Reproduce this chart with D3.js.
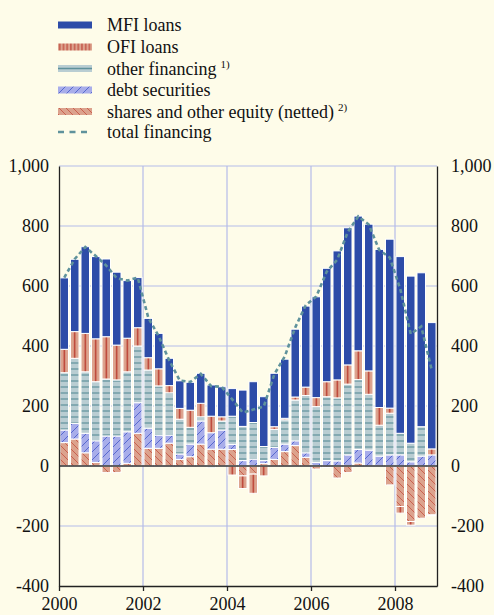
<!DOCTYPE html>
<html>
<head>
<meta charset="utf-8">
<script src="https://cdn.jsdelivr.net/npm/d3@7"></script>
<style>
   body { margin: 0; background: #fefce9; }
   svg { display: block; font-family: "Liberation Serif", "Times New Roman", serif; }
</style>
</head>
<body>
<div id="chart"></div>
<script>

// QUARTERS -- 2000 Q1 TO 2008 Q4
var quarters = [
   "2000Q1", "2000Q2", "2000Q3", "2000Q4", "2001Q1", "2001Q2", "2001Q3", "2001Q4",
   "2002Q1", "2002Q2", "2002Q3", "2002Q4", "2003Q1", "2003Q2", "2003Q3", "2003Q4",
   "2004Q1", "2004Q2", "2004Q3", "2004Q4", "2005Q1", "2005Q2", "2005Q3", "2005Q4",
   "2006Q1", "2006Q2", "2006Q3", "2006Q4", "2007Q1", "2007Q2", "2007Q3", "2007Q4",
   "2008Q1", "2008Q2", "2008Q3", "2008Q4"
];

// SERIES VALUES (EUR BILLIONS)
var mfiLoans = [238, 241, 289, 274, 259, 243, 192, 167, 131, 118, 91, 92,
   93, 100, 104, 100, 92, 121, 136, 166, 178, 197, 226, 270,
   336, 378, 430, 457, 449, 489, 527, 563, 589, 557, 513, 421];
var ofiLoans = [78, 89, 128, 143, 141, 116, 112, 61, 41, 57, 24, 36,
   57, 45, 55, 14, -30, -42, -64, -33, 9, 5, 10, 28,
   30, 50, 60, 64, 96, 78, 59, 17, -22, -12, 0, 20];
var otherFinancing = [191, 217, 205, 197, 190, 187, 200, 189, 194, 164, 141, 116,
   56, 14, -6, 30, 94, 114, 122, 47, 60, 81, 136, 191,
   186, 213, 210, 236, 233, 186, 103, 139, 72, 62, 98, -3];
var debtSecurities = [42, 52, 65, 72, 100, 100, 105, 102, 67, 44, 27, 18,
   42, 77, 55, 64, 17, 18, 23, 10, 40, 25, 16, 15,
   12, 18, 17, 37, 45, 53, 33, 37, 37, 14, 33, 37];
var sharesEquity = [78, 90, 44, 12, -22, -22, 9, 109, 59, 59, 76, 22,
   31, 73, 56, 56, 55, -33, -27, 8, 22, 48, 68, 29,
   -10, -5, -40, -22, 10, 0, 0, -63, -135, -185, -174, -163];
var totalFinancing = [628, 690, 730, 700, 668, 626, 618, 628, 495, 432, 352, 285,
   280, 307, 266, 264, 222, 178, 188, 198, 305, 365, 462, 536,
   565, 648, 688, 780, 832, 805, 720, 695, 590, 440, 465, 320];

// TICKS
var yTicks = [-400, -200, 0, 200, 400, 600, 800, 1000];
var yearTicks = [2000, 2002, 2004, 2006, 2008];

// LEGEND LABELS
var legendLabels = ["MFI loans", "OFI loans", "other financing", "debt securities",
   "shares and other equity (netted)", "total financing"];
var legendNotes = ["", "", "1)", "", "2)", ""];

// SETTINGS
var settings = {
   width: 494,
   height: 615,
   left: 59,
   right: 437,
   top: 166,
   bottom: 586,
   font: 18,
   grid: '#b4bbe9',
   line: '#5f929c'
};

// BUILD ROWS FOR STACKING
var keys = ['shares', 'debt', 'other', 'ofi', 'mfi'];
var rows = quarters.map((q, i) => {
   return {
      quarter: q,
      shares: sharesEquity[i],
      debt: debtSecurities[i],
      other: otherFinancing[i],
      ofi: ofiLoans[i],
      mfi: mfiLoans[i]
   };
});

// FILLS PER KEY (PATTERN IDS)
var fills = {
   mfi: '#2d4ca8',
   ofi: 'url(#ofi)',
   other: 'url(#other)',
   debt: 'url(#debt)',
   shares: 'url(#shares)'
};

// CANVAS
var svg = d3.select('#chart').append('svg')
   .attr('width', settings.width)
   .attr('height', settings.height)

// PATTERN DEFINITIONS
var defs = svg.append('defs');

// OFI LOANS -- ONE RED LINE CENTRED IN EACH BAR
var ofi = defs.append('pattern')
   .attr('id', 'ofi')
   .attr('patternUnits', 'userSpaceOnUse')
   .attr('x', settings.left)
   .attr('width', (settings.right - settings.left) / quarters.length)
   .attr('height', 10)
ofi.append('rect').attr('width', 20).attr('height', 10).attr('fill', '#dda48f')
ofi.append('line')
   .attr('x1', (settings.right - settings.left) / quarters.length / 2)
   .attr('x2', (settings.right - settings.left) / quarters.length / 2)
   .attr('y1', 0).attr('y2', 10)
   .attr('stroke', '#b8362a').attr('stroke-width', 1.4)

// OFI LOANS -- LEGEND VERSION, DENSE LINES
var ofiLegend = defs.append('pattern')
   .attr('id', 'ofiLegend')
   .attr('patternUnits', 'userSpaceOnUse')
   .attr('x', 58)
   .attr('width', 3.7)
   .attr('height', 10)
ofiLegend.append('rect').attr('width', 4).attr('height', 10).attr('fill', '#dda48f')
ofiLegend.append('line')
   .attr('x1', 1.8).attr('x2', 1.8).attr('y1', 0).attr('y2', 10)
   .attr('stroke', '#b8362a').attr('stroke-width', 1)

// OTHER FINANCING -- HORIZONTAL LINES
var other = defs.append('pattern')
   .attr('id', 'other')
   .attr('patternUnits', 'userSpaceOnUse')
   .attr('width', 10)
   .attr('height', 6)
other.append('rect').attr('width', 10).attr('height', 6).attr('fill', '#b9cdd2')
other.append('line')
   .attr('x1', 0).attr('x2', 10).attr('y1', 3).attr('y2', 3)
   .attr('stroke', '#5f919b').attr('stroke-width', 1.2)

// DEBT SECURITIES -- FORWARD DIAGONALS
var debt = defs.append('pattern')
   .attr('id', 'debt')
   .attr('patternUnits', 'userSpaceOnUse')
   .attr('width', 8)
   .attr('height', 8)
debt.append('rect').attr('width', 8).attr('height', 8).attr('fill', '#a8adea')
debt.append('path')
   .attr('d', 'M-1,9 L9,-1 M-1,1 L1,-1 M7,9 L9,7')
   .attr('stroke', '#4358c6').attr('stroke-width', 0.8)

// SHARES -- BACKWARD DIAGONALS
var shares = defs.append('pattern')
   .attr('id', 'shares')
   .attr('patternUnits', 'userSpaceOnUse')
   .attr('width', 7)
   .attr('height', 7)
shares.append('rect').attr('width', 7).attr('height', 7).attr('fill', '#dca28d')
shares.append('path')
   .attr('d', 'M-1,-1 L8,8 M-1,6 L1,8 M6,-1 L8,1')
   .attr('stroke', '#c4503f').attr('stroke-width', 0.8)

// X-SCALING -- ONE BAND PER QUARTER
var xScale = d3.scaleBand()
   .domain(quarters)
   .range([settings.left, settings.right])
   .padding(0)

// X-SCALING -- YEARS FOR THE AXIS
var xYear = d3.scaleLinear()
   .domain([2000, 2009])
   .range([settings.left, settings.right])

// Y-SCALING
var yScale = d3.scaleLinear()
   .domain([-400, 1000])
   .range([settings.bottom, settings.top])

// NUMBER FORMAT WITH PLAIN HYPHEN
var fmt = (d) => { return d3.format(',')(d).replace('\u2212', '-') };

// HORIZONTAL GRID
svg.append('g').selectAll('line')
   .data(yTicks.filter(d => d > -400))
      .enter().append('line')
         .attr('x1', settings.left)
         .attr('x2', settings.right)
         .attr('y1', d => yScale(d))
         .attr('y2', d => yScale(d))
         .attr('stroke', settings.grid)
         .attr('stroke-width', 1.2)

// VERTICAL GRID
svg.append('g').selectAll('line')
   .data(yearTicks.filter(d => d > 2000))
      .enter().append('line')
         .attr('x1', d => xYear(d))
         .attr('x2', d => xYear(d))
         .attr('y1', settings.top)
         .attr('y2', settings.bottom)
         .attr('stroke', settings.grid)
         .attr('stroke-width', 1.2)

// STACK THE SERIES -- NEGATIVES GO DOWN FROM ZERO
var stacked = d3.stack()
   .keys(keys)
   .offset(d3.stackOffsetDiverging)(rows)

// ADD BAR SEGMENTS
stacked.forEach(layer => {
   svg.append('g').selectAll('rect')
      .data(layer.filter(d => d[1] !== d[0]))
         .enter().append('rect')
            .attr('x', d => xScale(d.data.quarter) + 1)
            .attr('width', xScale.bandwidth() - 2)
            .attr('y', d => yScale(Math.max(d[0], d[1])))
            .attr('height', d => Math.abs(yScale(d[0]) - yScale(d[1])))
            .attr('fill', fills[layer.key])
            .attr('stroke', '#ffffff')
            .attr('stroke-width', 1)
});

// ZERO LINE
svg.append('line')
   .attr('x1', settings.left)
   .attr('x2', settings.right)
   .attr('y1', yScale(0))
   .attr('y2', yScale(0))
   .attr('stroke', '#333333')
   .attr('stroke-width', 1.6)

// TOTAL FINANCING LINE
var pathify = d3.line()
   .x((d, i) => { return xScale(quarters[i]) + xScale.bandwidth() / 2 })
   .y((d) => { return yScale(d) })

svg.append('path')
   .attr('d', pathify(totalFinancing))
   .attr('fill', 'none')
   .attr('stroke', settings.line)
   .attr('stroke-width', 2.6)
   .attr('stroke-dasharray', '4,3')

// LEFT AXIS
var left = svg.append('g')
   .attr('transform', 'translate(' + settings.left + ',0)')
   .call(d3.axisLeft(yScale).tickValues(yTicks).tickFormat(fmt).tickSize(0).tickPadding(10))

// RIGHT AXIS
var right = svg.append('g')
   .attr('transform', 'translate(' + settings.right + ',0)')
   .call(d3.axisRight(yScale).tickValues(yTicks).tickFormat(fmt).tickSize(0).tickPadding(14))

// BOTTOM AXIS
var bottom = svg.append('g')
   .attr('transform', 'translate(0,' + settings.bottom + ')')
   .call(d3.axisBottom(xYear).tickValues(yearTicks).tickFormat(d3.format('d')).tickSize(5).tickSizeOuter(0).tickPadding(6))

// AXIS STYLE
;[left, right, bottom].forEach(axis => {
   axis.selectAll('text')
      .attr('font-family', '"Liberation Serif", "Times New Roman", serif')
      .attr('font-size', settings.font)
      .attr('fill', '#111111')
   axis.select('.domain').attr('stroke', '#222222').attr('stroke-width', 1.3)
   axis.selectAll('.tick line').attr('stroke', '#222222').attr('stroke-width', 1.3)
});

// LEGEND
var legend = svg.append('g');
var rowY = [25, 47, 68.5, 90, 111.5, 132];

legendLabels.forEach((label, i) => {

   // SWATCH
   if (i == 0) {
      legend.append('rect').attr('x', 58).attr('y', rowY[i] - 3.5).attr('width', 34).attr('height', 7).attr('fill', fills.mfi)
   } else if (i == 1) {
      legend.append('rect').attr('x', 58).attr('y', rowY[i] - 3.5).attr('width', 34).attr('height', 7).attr('fill', 'url(#ofiLegend)')
   } else if (i == 2) {
      legend.append('rect').attr('x', 58).attr('y', rowY[i] - 3.5).attr('width', 34).attr('height', 7).attr('fill', '#b9cdd2')
      legend.append('line').attr('x1', 58).attr('x2', 92).attr('y1', rowY[i]).attr('y2', rowY[i])
         .attr('stroke', '#5f919b').attr('stroke-width', 1.3)
   } else if (i == 3) {
      legend.append('rect').attr('x', 58).attr('y', rowY[i] - 3.5).attr('width', 34).attr('height', 7).attr('fill', fills.debt)
   } else if (i == 4) {
      legend.append('rect').attr('x', 58).attr('y', rowY[i] - 3.5).attr('width', 34).attr('height', 7).attr('fill', fills.shares)
   } else {
      legend.append('line').attr('x1', 58).attr('x2', 92).attr('y1', rowY[i]).attr('y2', rowY[i])
         .attr('stroke', settings.line).attr('stroke-width', 2.4).attr('stroke-dasharray', '6,5.5')
   }

   // LABEL WITH OPTIONAL FOOTNOTE MARK
   var text = legend.append('text')
      .attr('x', 107)
      .attr('y', rowY[i] + 6)
      .attr('font-size', settings.font)
      .attr('fill', '#111111')
      .text(label)

   if (legendNotes[i]) {
      text.append('tspan')
         .attr('dx', 4)
         .attr('dy', -7)
         .attr('font-size', 11)
         .text(legendNotes[i])
   }
});

</script>
</body>
</html>
